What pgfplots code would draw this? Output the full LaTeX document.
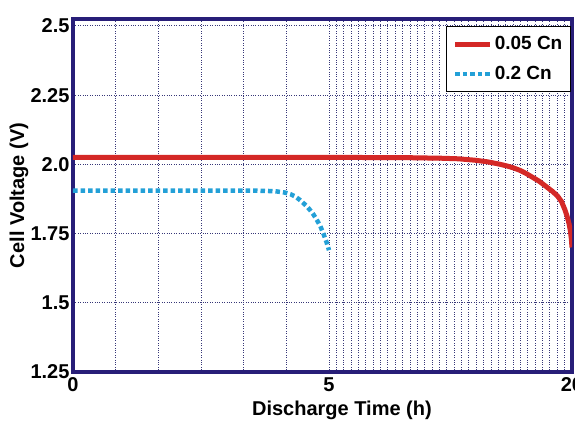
\documentclass[border=0pt]{standalone}
\usepackage{fontspec}
\setmainfont{Liberation Sans}
\usepackage{pgfplots}
\pgfplotsset{compat=1.18}
\definecolor{navy}{RGB}{40,30,120}
\definecolor{gridc}{RGB}{55,55,120}
\definecolor{rline}{RGB}{212,40,38}
\definecolor{bline}{RGB}{35,160,215}
\begin{document}
\begin{tikzpicture}
\useasboundingbox (-73pt,-50pt) rectangle (502pt,372pt);
\clip (-73pt,-50pt) rectangle (502pt,372pt);
\begin{axis}[
 at={(0pt,0pt)}, anchor=south west,
 scale only axis, width=499pt, height=353pt,
 xmin=0, xmax=20, ymin=1.25, ymax=2.525,
 x coord trafo/.code={\pgfmathparse{ifthenelse(#1<=5,#1,5+(#1-5)*0.3164)}},
 x coord inv trafo/.code={\pgfmathparse{ifthenelse(#1<=5,#1,5+(#1-5)/0.3164)}},
 xtick={0,5,20}, xticklabels={0,5,20},
 ytick={1.25,1.5,1.75,2,2.25,2.5},
 yticklabels={1.25,1.5,1.75,2.0,2.25,2.5},
 minor xtick={0.8333,1.6667,2.5,3.3333,4.1667,5.4545,5.9091,...,19.6},
 major tick length=0pt, minor tick length=0pt,
 grid=both,
 major grid style={gridc, dotted, line width=1pt},
 minor grid style={gridc, dotted, line width=1pt},
 axis line style={navy, line width=3.5pt},
 tick label style={font=\fontsize{20}{24}\selectfont\bfseries},
 xticklabel style={yshift=-2pt},
 label style={font=\fontsize{20}{24}\selectfont\bfseries},
 xlabel={Discharge Time (h)},
 ylabel={Cell Voltage (V)},
 xlabel style={at={(axis description cs:0.539,-0.108)}, anchor=center},
 ylabel style={at={(axis description cs:-0.108,0.5)}, anchor=center},
 legend style={at={(1,1)}, anchor=north east, xshift=-1pt, yshift=-7pt, draw=black, line width=1.3pt,
   font=\fontsize{19}{22}\selectfont\bfseries, row sep=11pt, inner xsep=6pt, inner ysep=8pt},
 legend cell align=left,
 legend image code/.code={\draw[#1] (0pt,0pt) -- (35pt,0pt);},
]
\addplot[rline, line width=5pt] coordinates {
(0,2.025)(6,2.025)(10,2.024)(12,2.022)(13,2.02)(14,2.015)(14.8,2.009)(15.5,2.001)
(16,1.994)(16.4,1.987)(16.8,1.978)(17.2,1.966)(17.6,1.952)(18,1.938)(18.4,1.92)
(18.8,1.902)(19.1,1.886)(19.35,1.866)(19.55,1.838)(19.7,1.812)(19.82,1.785)
(19.9,1.76)(19.96,1.73)(20,1.70)};
\addlegendentry{0.05 Cn}
\addplot[bline, line width=4.5pt, dash pattern=on 4.5pt off 3pt] coordinates {
(0,1.905)(3.6,1.905)(3.95,1.903)(4.14,1.898)(4.25,1.892)(4.34,1.884)(4.42,1.873)
(4.5,1.86)(4.57,1.848)(4.63,1.835)(4.7,1.818)(4.76,1.80)(4.83,1.777)(4.89,1.75)
(4.95,1.72)(5.0,1.69)};
\addlegendentry{0.2 Cn}
\end{axis}
\end{tikzpicture}
\end{document}
